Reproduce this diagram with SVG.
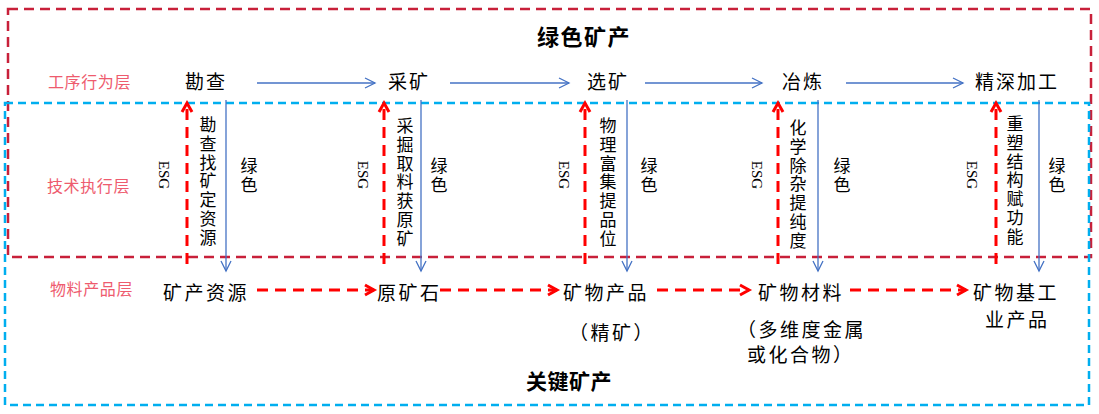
<svg xmlns="http://www.w3.org/2000/svg" width="1099" height="414" viewBox="0 0 1099 414">
<style>
.box-red{fill:none;stroke:#C8203A;stroke-width:2.5;stroke-dasharray:10 6}
.box-blue{fill:none;stroke:#00AEEF;stroke-width:2.5;stroke-dasharray:8 5}
.arr-blue{fill:none;stroke:#4472C4;stroke-width:1.3;marker-end:url(#mb)}
.arr-red{fill:none;stroke:#FF0000;stroke-width:3;stroke-dasharray:11 7;marker-end:url(#mr)}
.t{font-family:"Noto Sans CJK SC","Noto Sans",sans-serif;fill:#000}
.step{font-size:19px;letter-spacing:2px}
.prod{font-size:19px;letter-spacing:2.5px}
.vt{font-size:17px;writing-mode:vertical-rl;letter-spacing:1.8px}
.vg{font-size:17px;writing-mode:vertical-rl;letter-spacing:2.5px}
.layer{font-family:"Noto Sans CJK SC","Noto Sans",sans-serif;font-size:16px;letter-spacing:0.6px;fill:#EE5B6E}
.title{font-family:"Noto Sans CJK SC","Noto Sans",sans-serif;font-weight:bold;fill:#000}
.esg{font-family:"Liberation Serif",serif;font-size:15px;text-anchor:middle;dominant-baseline:central;fill:#000}
</style>
<defs>
<marker id="mb" markerUnits="userSpaceOnUse" markerWidth="14" markerHeight="14" refX="10" refY="5" orient="auto" viewBox="-2 -2 14 14">
<path d="M0,0 L10,5 L0,10" fill="none" stroke="#4472C4" stroke-width="1.3"/>
</marker>
<marker id="mr" markerUnits="userSpaceOnUse" markerWidth="16" markerHeight="16" refX="9" refY="5" orient="auto" viewBox="-3 -3 16 16">
<path d="M0,0 L9,5 L0,10" fill="none" stroke="#FF0000" stroke-width="3"/>
</marker>
</defs>
<rect width="1099" height="414" fill="#fff"/>

<g id="frames">
<rect class="box-red" x="8" y="9" width="1083" height="248"/>
<rect class="box-blue" x="5" y="103" width="1084" height="302"/>
</g>

<g id="titles">
<text class="title" x="537" y="45" font-size="22" letter-spacing="1.5">绿色矿产</text>
<text class="title" x="526" y="389" font-size="21" letter-spacing="0.5">关键矿产</text>
</g>

<g id="layers">
<text class="layer" x="48" y="88">工序行为层</text>
<text class="layer" x="47" y="192">技术执行层</text>
<text class="layer" x="50" y="295">物料产品层</text>
</g>

<g id="connectors">
<line class="arr-blue" x1="257" y1="83" x2="375" y2="83"/>
<line class="arr-blue" x1="450" y1="83" x2="569" y2="83"/>
<line class="arr-blue" x1="645" y1="83" x2="762" y2="83"/>
<line class="arr-blue" x1="846" y1="83" x2="963" y2="83"/>

<line class="arr-blue" x1="226" y1="100" x2="226" y2="271"/>
<line class="arr-blue" x1="421" y1="100" x2="421" y2="271"/>
<line class="arr-blue" x1="627" y1="100" x2="627" y2="271"/>
<line class="arr-blue" x1="818" y1="100" x2="818" y2="271"/>
<line class="arr-blue" x1="1039" y1="100" x2="1039" y2="271"/>

<line class="arr-red" x1="187" y1="264" x2="187" y2="103"/>
<line class="arr-red" x1="384" y1="264" x2="384" y2="103"/>
<line class="arr-red" x1="585" y1="264" x2="585" y2="103"/>
<line class="arr-red" x1="778" y1="264" x2="778" y2="103"/>
<line class="arr-red" x1="996" y1="264" x2="996" y2="103"/>

<line class="arr-red" x1="257" y1="290" x2="374" y2="290"/>
<line class="arr-red" x1="440" y1="290" x2="557" y2="290"/>
<line class="arr-red" x1="657" y1="290" x2="749" y2="290"/>
<line class="arr-red" x1="850" y1="290" x2="966" y2="290"/>
</g>

<g id="step-kancha"><text class="t step" x="185" y="89">勘查</text></g>
<g id="step-caikuang"><text class="t step" x="388" y="89">采矿</text></g>
<g id="step-xuankuang"><text class="t step" x="587" y="89">选矿</text></g>
<g id="step-yelian"><text class="t step" x="782" y="89">冶炼</text></g>
<g id="step-jingshen"><text class="t step" x="975" y="89">精深加工</text></g>

<g id="tech-1">
<text class="esg" transform="translate(164,175) rotate(90)">ESG</text>
<text class="t vt" x="208" y="116">勘查找矿定资源</text>
<text class="t vg" x="249" y="157">绿色</text>
</g>
<g id="tech-2">
<text class="esg" transform="translate(363,175) rotate(90)">ESG</text>
<text class="t vt" x="405" y="117">采掘取料获原矿</text>
<text class="t vg" x="439" y="157">绿色</text>
</g>
<g id="tech-3">
<text class="esg" transform="translate(564,175) rotate(90)">ESG</text>
<text class="t vt" x="608" y="117">物理富集提品位</text>
<text class="t vg" x="649" y="157">绿色</text>
</g>
<g id="tech-4">
<text class="esg" transform="translate(757,175) rotate(90)">ESG</text>
<text class="t vt" x="798" y="119">化学除杂提纯度</text>
<text class="t vg" x="842" y="157">绿色</text>
</g>
<g id="tech-5">
<text class="esg" transform="translate(972,175) rotate(90)">ESG</text>
<text class="t vt" x="1015" y="115">重塑结构赋功能</text>
<text class="t vg" x="1057" y="157">绿色</text>
</g>

<g id="prod-kuangchan"><text class="t prod" x="163" y="300">矿产资源</text></g>
<g id="prod-yuankuang"><text class="t prod" x="377" y="300">原矿石</text></g>
<g id="prod-kuangwu">
<text class="t prod" x="563" y="300">矿物产品</text>
<text class="t prod" x="569" y="340">（精矿）</text>
</g>
<g id="prod-cailiao">
<text class="t prod" x="758" y="300">矿物材料</text>
<text class="t prod" x="737" y="337">（多维度金属</text>
<text class="t prod" x="747" y="362">或化合物）</text>
</g>
<g id="prod-gongye">
<text class="t prod" x="973" y="300">矿物基工</text>
<text class="t prod" x="985" y="327">业产品</text>
</g>
</svg>
